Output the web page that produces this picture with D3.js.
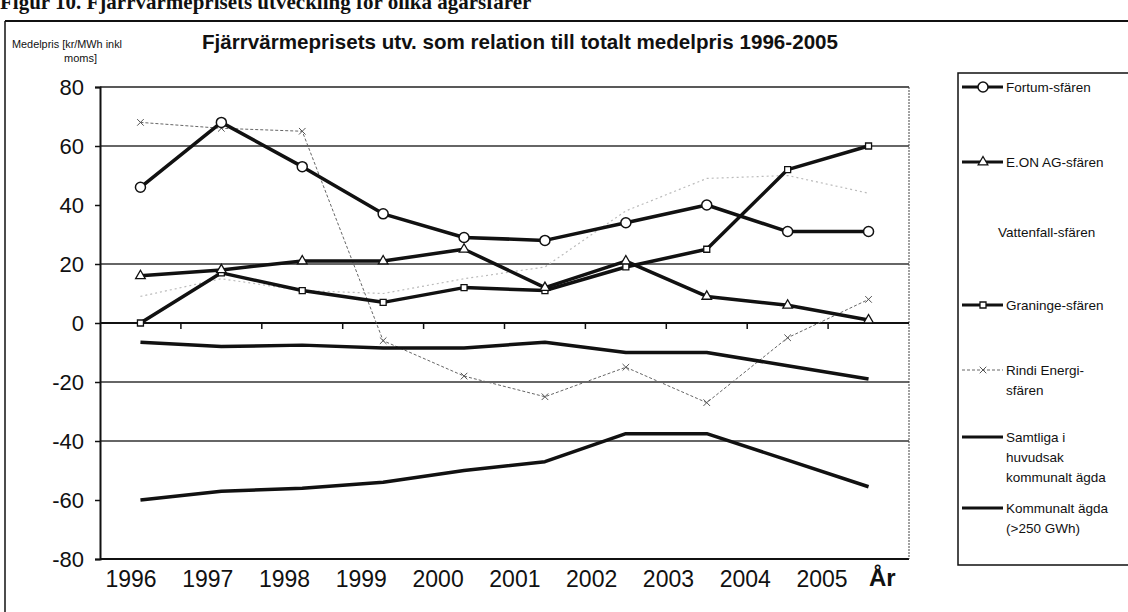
<!DOCTYPE html>
<html>
<head>
<meta charset="utf-8">
<script src="https://cdn.jsdelivr.net/npm/d3@7"></script>
<style>
  body { margin: 0; background: #fff; }
  svg { display: block; }
  text { font-family: "Liberation Sans", Arial, sans-serif; fill: #111; }
</style>
</head>
<body>
<svg id="chart" width="1128" height="612"></svg>
<script>
// data
const years = [1996, 1997, 1998, 1999, 2000, 2001, 2002, 2003, 2004, 2005];
const fortum     = [46, 68, 53, 37, 29, 28, 34, 40, 31, 31];
const eon        = [16, 18, 21, 21, 25, 12, 21, 9, 6, 1];
const vattenfall = [9, 15, 11, 10, 15, 19, 38, 49, 50, 44];
const graninge   = [0, 17, 11, 7, 12, 11, 19, 25, 52, 60];
const rindi      = [68, 66, 65, -6, -18, -25, -15, -27, -5, 8];
const samtliga   = [-6.5, -8, -7.5, -8.5, -8.5, -6.5, -10, -10, -14.5, -19];
const kommunalt  = [-60, -57, -56, -54, -50, -47, -37.5, -37.5, -46.5, -55.5];
const yTicks = [80, 60, 40, 20, 0, -20, -40, -60, -80];
const gridValues = [60, 20, -20, -40];

const series = [
  { name: ["Fortum-sfären"], values: fortum, kind: "thick", marker: "circle" },
  { name: ["E.ON AG-sfären"], values: eon, kind: "thick", marker: "triangle" },
  { name: ["Vattenfall-sfären"], values: vattenfall, kind: "faint", marker: null },
  { name: ["Graninge-sfären"], values: graninge, kind: "thick", marker: "square" },
  { name: ["Rindi Energi-", "sfären"], values: rindi, kind: "dashed", marker: "cross" },
  { name: ["Samtliga i", "huvudsak", "kommunalt ägda"], values: samtliga, kind: "thick", marker: null },
  { name: ["Kommunalt ägda", "(>250 GWh)"], values: kommunalt, kind: "thick", marker: null }
];

const svg = d3.select("#chart");

// figure caption (cut off at the top of the scan)
svg.append("text")
  .attr("x", 0).attr("y", 9)
  .style("font-family", "'Liberation Serif', 'DejaVu Serif', serif")
  .style("font-weight", "bold")
  .style("font-size", "21px")
  .text("Figur 10. Fjärrvärmeprisets utveckling för olika ägarsfärer");

// outer frame
svg.append("line").attr("x1", 5).attr("x2", 1128).attr("y1", 21).attr("y2", 21)
  .attr("stroke", "#111").attr("stroke-width", 2);
svg.append("line").attr("x1", 5).attr("x2", 5).attr("y1", 21).attr("y2", 612)
  .attr("stroke", "#111").attr("stroke-width", 1.5);

// title and axis label
svg.append("text")
  .attr("x", 202).attr("y", 49)
  .attr("textLength", 636).attr("lengthAdjust", "spacingAndGlyphs")
  .style("font-weight", "bold").style("font-size", "21px")
  .text("Fjärrvärmeprisets utv. som relation till totalt medelpris 1996-2005");
svg.append("text").attr("x", 12).attr("y", 48)
  .attr("textLength", 110).attr("lengthAdjust", "spacingAndGlyphs")
  .style("font-size", "11px").text("Medelpris [kr/MWh inkl");
svg.append("text").attr("x", 64).attr("y", 62)
  .style("font-size", "11px").text("moms]");

// scales
const plotLeft = 100, plotRight = 909, plotTop = 87, plotBottom = 559;
const x = d3.scaleBand().domain(years).range([plotLeft, plotRight]);
const y = d3.scaleLinear().domain([-80, 80]).range([plotBottom, plotTop]);
const cx = d => x(d) + x.bandwidth() / 2;
// the year labels in the scan sit on a slightly narrower spacing than the points
const xLabel = d3.scalePoint().domain(years).range([131, 822]);

// gridlines
svg.append("g").selectAll("line").data(gridValues).join("line")
  .attr("x1", plotLeft).attr("x2", plotRight)
  .attr("y1", d => y(d)).attr("y2", d => y(d))
  .attr("stroke", "#333").attr("stroke-width", 1.3);

// plot frame
svg.append("line").attr("x1", plotLeft).attr("x2", plotRight).attr("y1", y(80)).attr("y2", y(80))
  .attr("stroke", "#222").attr("stroke-width", 1.5);
svg.append("line").attr("x1", plotLeft).attr("x2", plotRight).attr("y1", y(-80)).attr("y2", y(-80))
  .attr("stroke", "#111").attr("stroke-width", 2);
svg.append("line").attr("x1", plotRight).attr("x2", plotRight).attr("y1", y(80)).attr("y2", y(-80))
  .attr("stroke", "#444").attr("stroke-width", 1).attr("stroke-dasharray", "2,1");

// y axis
const yAxis = svg.append("g")
  .attr("transform", `translate(${plotLeft},0)`)
  .call(d3.axisLeft(y).tickValues(yTicks).tickSize(5).tickPadding(11).tickFormat(d => String(d)));
yAxis.select(".domain").attr("stroke", "#111").attr("stroke-width", 2);
yAxis.selectAll(".tick line").attr("stroke", "#111").attr("stroke-width", 1.5);
yAxis.selectAll(".tick text")
  .style("font-size", "22px").style("font-family", "'Liberation Sans', Arial, sans-serif")
  .attr("fill", "#111");

// zero line with category ticks
svg.append("line").attr("x1", plotLeft).attr("x2", plotRight).attr("y1", y(0)).attr("y2", y(0))
  .attr("stroke", "#111").attr("stroke-width", 2);
svg.append("g").selectAll("line").data(years.slice(1)).join("line")
  .attr("x1", d => x(d)).attr("x2", d => x(d))
  .attr("y1", y(0)).attr("y2", y(0) + 6)
  .attr("stroke", "#111").attr("stroke-width", 1.5);

// x labels
svg.append("g").selectAll("text").data(years).join("text")
  .attr("x", d => xLabel(d)).attr("y", 587)
  .attr("text-anchor", "middle")
  .style("font-size", "23px")
  .text(d => d);
svg.append("text").attr("x", 869).attr("y", 586)
  .style("font-size", "24px").style("font-weight", "bold").text("År");

// line styles
function styleLine(sel, kind) {
  if (kind === "thick") sel.attr("stroke", "#111").attr("stroke-width", 3.5);
  else if (kind === "dashed") sel.attr("stroke", "#666").attr("stroke-width", 1).attr("stroke-dasharray", "3,2");
  else sel.attr("stroke", "#bbb").attr("stroke-width", 1.2).attr("stroke-dasharray", "2,3");
  return sel;
}

function drawMarker(g, type, px, py) {
  if (type === "circle") {
    g.append("circle").attr("cx", px).attr("cy", py).attr("r", 5)
      .attr("fill", "#fff").attr("stroke", "#111").attr("stroke-width", 1.5);
  } else if (type === "triangle") {
    g.append("path").attr("d", d3.symbol(d3.symbolTriangle, 40)())
      .attr("transform", `translate(${px},${py})`)
      .attr("fill", "#fff").attr("stroke", "#111").attr("stroke-width", 1.3);
  } else if (type === "square") {
    g.append("path").attr("d", d3.symbol(d3.symbolSquare, 36)())
      .attr("transform", `translate(${px},${py})`)
      .attr("fill", "#fff").attr("stroke", "#111").attr("stroke-width", 1.3);
  } else if (type === "cross") {
    g.append("path").attr("d", d3.symbol(d3.symbolTimes, 30)())
      .attr("transform", `translate(${px},${py})`)
      .attr("fill", "none").attr("stroke", "#555").attr("stroke-width", 1);
  }
}

const line = d3.line().x((d, i) => cx(years[i])).y(d => y(d));

// draw faint ones first, thick on top
const order = [2, 4, 5, 6, 3, 1, 0];
order.forEach(i => {
  const s = series[i];
  const g = svg.append("g");
  styleLine(g.append("path").datum(s.values).attr("d", line).attr("fill", "none")
    .attr("stroke-linejoin", "round"), s.kind);
  if (s.marker) s.values.forEach((v, j) => drawMarker(g, s.marker, cx(years[j]), y(v)));
});

// legend
const legX = 958, legTop = 73, legBottom = 565;
svg.append("path")
  .attr("d", `M1130,${legTop}H${legX}V${legBottom}H1130`)
  .attr("fill", "none").attr("stroke", "#111").attr("stroke-width", 1.5);

const legendY = [87, 162, 232, 305, 370, 437, 508];
series.forEach((s, i) => {
  const g = svg.append("g");
  const ly = legendY[i];
  if (s.kind !== "faint") {
    styleLine(g.append("line").attr("x1", 962).attr("x2", 1003).attr("y1", ly).attr("y2", ly), s.kind)
      .attr("stroke-width", s.kind === "thick" ? 3 : 1);
  }
  if (s.marker) drawMarker(g, s.marker, 983, ly);
  s.name.forEach((t, k) => {
    g.append("text").attr("x", s.kind === "faint" ? 998 : 1006).attr("y", ly + 5 + k * 20)
      .style("font-size", "13.5px").text(t);
  });
});
</script>
</body>
</html>
